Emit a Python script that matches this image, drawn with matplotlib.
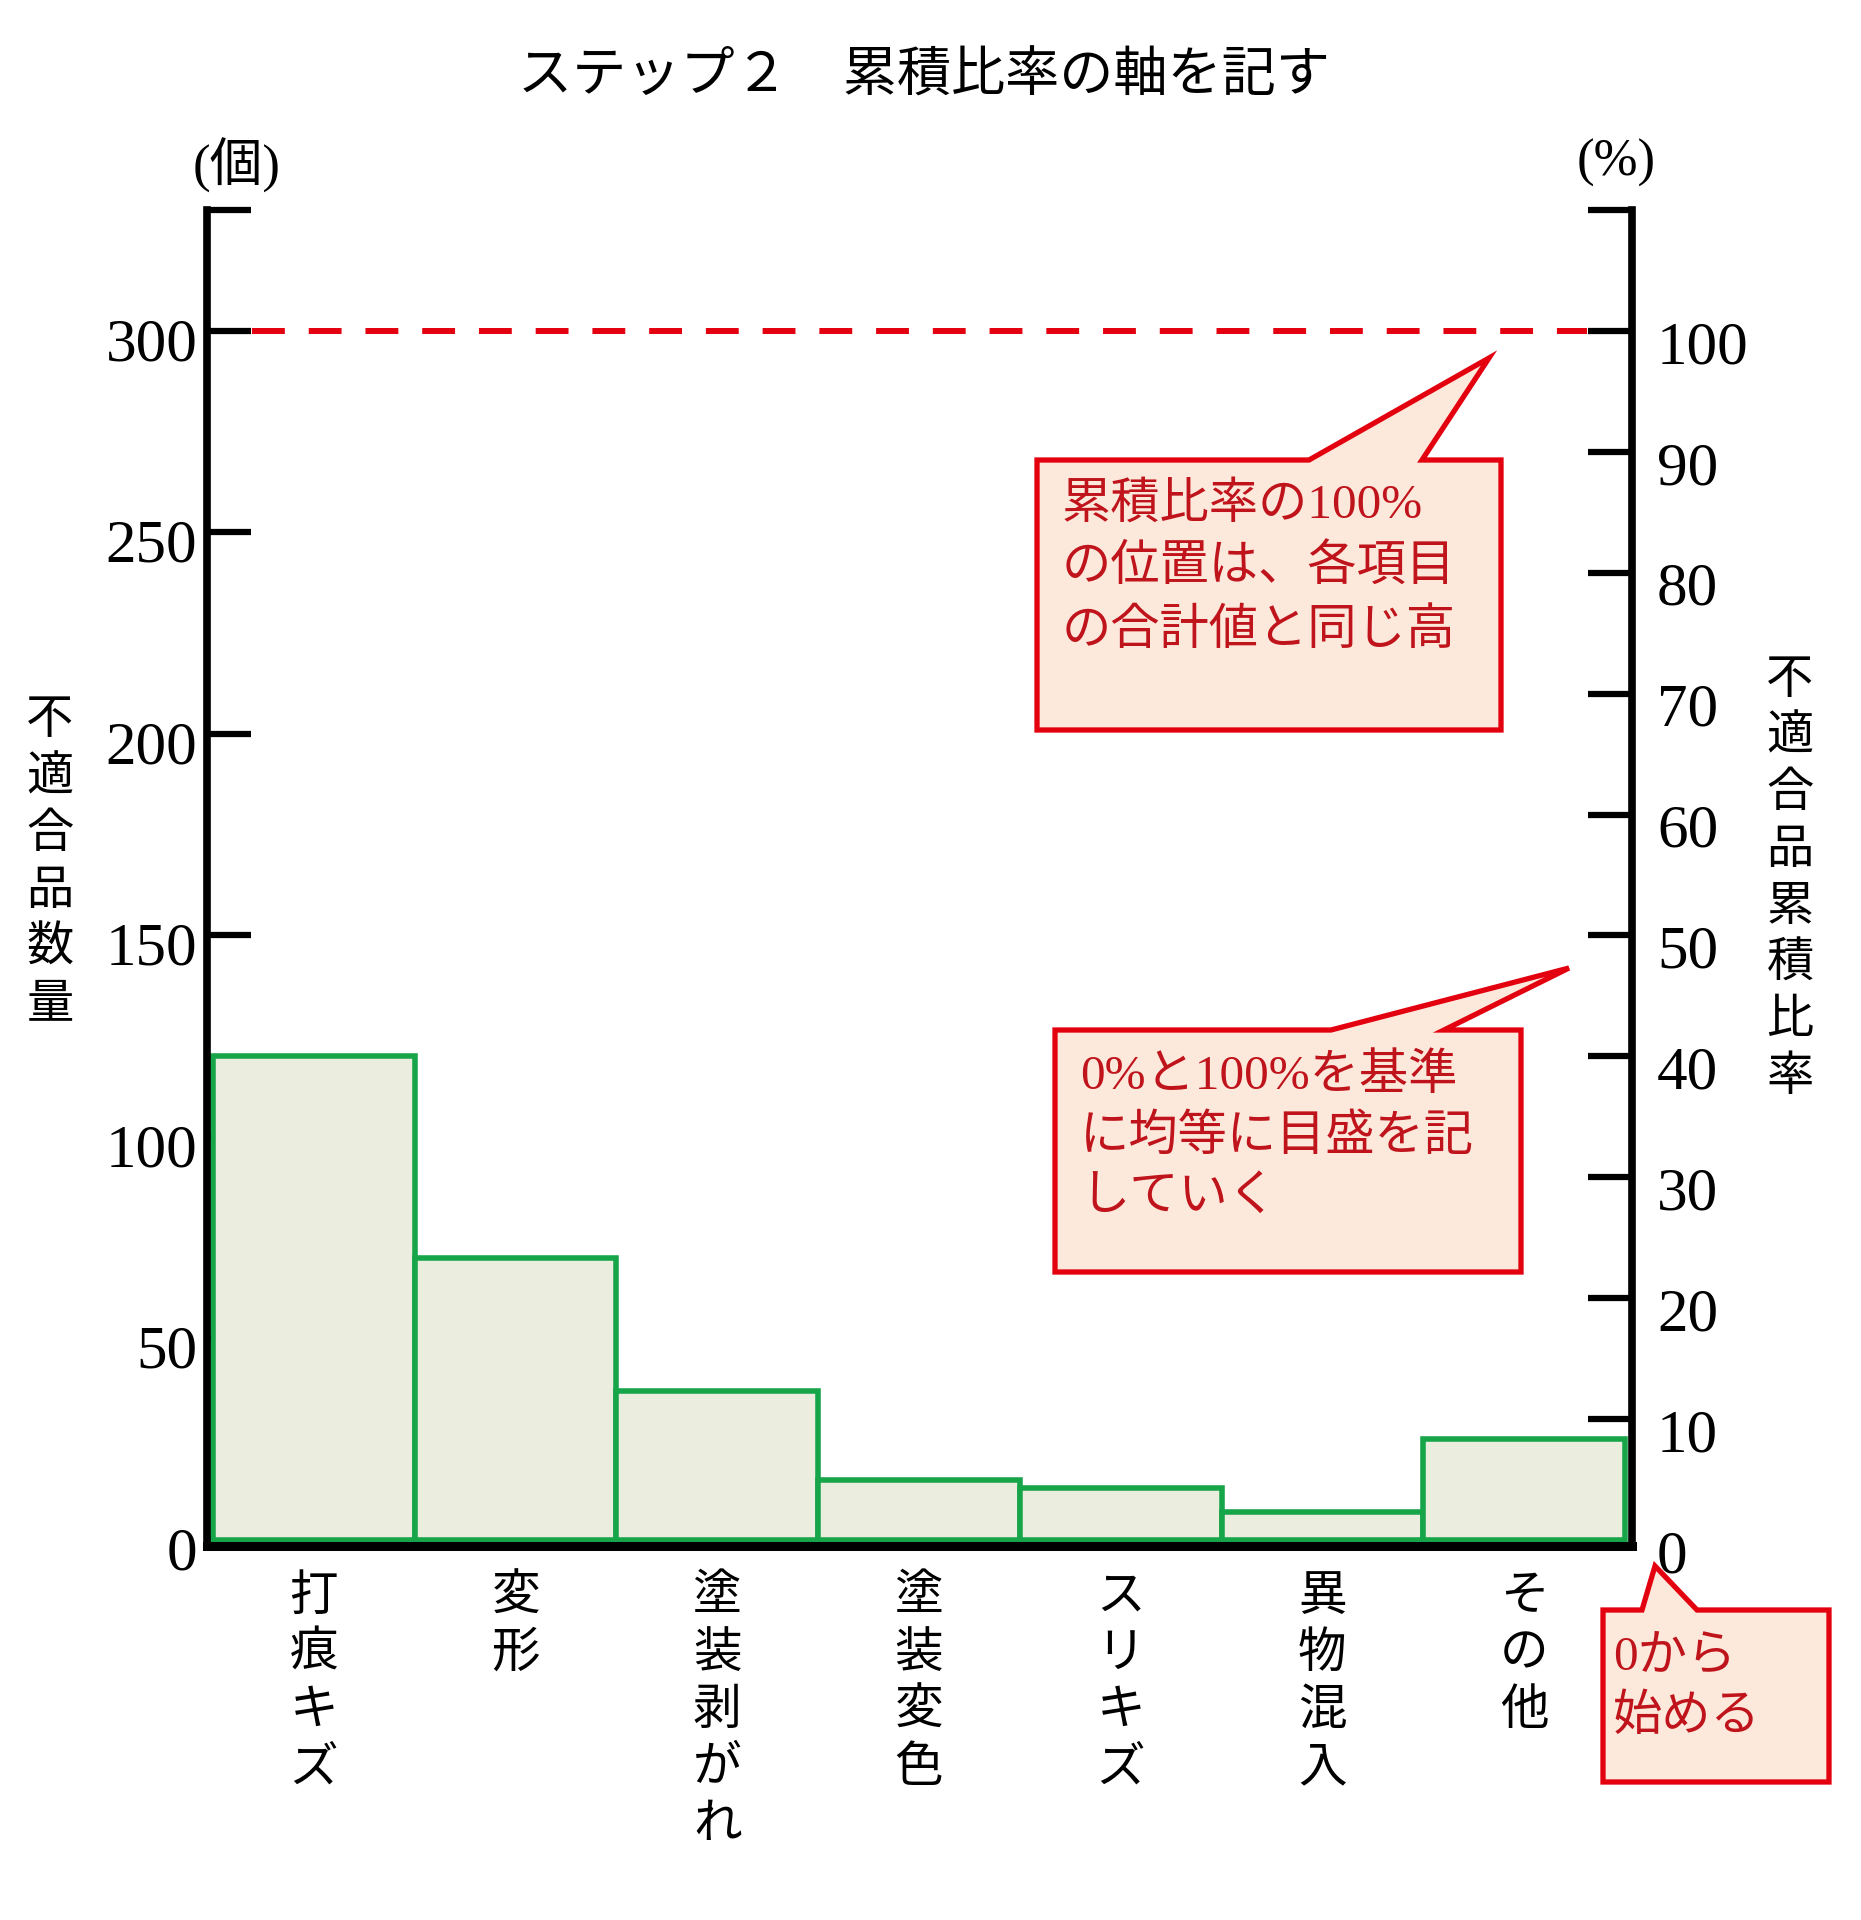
import matplotlib
matplotlib.use('Agg')
import matplotlib.pyplot as plt
from matplotlib.patches import Polygon
import matplotlib.transforms as mtransforms

# ---------------- data ----------------
categories = ['打痕キズ', '変形', '塗装剥がれ', '塗装変色', 'スリキズ', '異物混入', 'その他']
counts = [120, 70, 37, 15, 13, 7, 25]
left_ticks = [0, 50, 100, 150, 200, 250, 300, 330]
left_ticklabels = ['0', '50', '100', '150', '200', '250', '300', '']
right_ticks = [0, 10, 20, 30, 40, 50, 60, 70, 80, 90, 100, 110]
right_ticklabels = ['0', '10', '20', '30', '40', '50', '60', '70', '80', '90', '100', '']
total_level = 300
title = 'ステップ２　累積比率の軸を記す'
left_unit = '(個)'
right_unit = '(%)'
left_ylabel = '不適合品数量'
right_ylabel = '不適合品累積比率'
callout1_lines = ['累積比率の100%', 'の位置は、各項目', 'の合計値と同じ高']
callout2_lines = ['0%と100%を基準', 'に均等に目盛を記', 'していく']
callout3_lines = ['0から', '始める']

# ---------------- style ----------------
W, H = 1861, 1920
FAM = ['Liberation Serif', 'Noto Sans CJK JP']
CJK = ['Noto Sans CJK JP', 'DejaVu Sans']
plt.rcParams['font.family'] = FAM

GREEN = '#17A54A'
FILL = '#EBEEDF'
RED = '#E3000F'
TXTRED = '#C0141C'
BOXFILL = '#FDE9DC'

fig = plt.figure(figsize=(W / 100, H / 100), dpi=100)
fig.patch.set_facecolor('white')

def fx(x):
    return x / W

def fy(y):
    return 1 - y / H

ax_l, ax_r, ax_t, ax_b = 207, 1632, 210, 1546
ax = fig.add_axes([fx(ax_l), fy(ax_b), (ax_r - ax_l) / W, (ax_b - ax_t) / H])
ax.set_facecolor('none')

centers = [i + 0.5 for i in range(len(categories))]
ax.bar(centers, counts, width=1.0, color=FILL, edgecolor=GREEN, linewidth=4.0, zorder=2)

ax.set_xlim(-0.03, 7.035)
ax.set_ylim(-1.5, 330)

# dashed 100% line
ax.axhline(total_level, xmin=0.0316, xmax=0.9684, color=RED, lw=4.3,
           ls=(0, (5.5, 4)), zorder=3)

for s in ['top', 'right']:
    ax.spines[s].set_visible(False)
ax.spines['left'].set_linewidth(5.5)
ax.spines['bottom'].set_linewidth(6.5)
for s in ['left', 'bottom']:
    ax.spines[s].set_zorder(4)

ax.set_yticks(left_ticks)
ax.set_yticklabels(left_ticklabels)
ax.tick_params(axis='y', direction='in', length=32, width=4.5, pad=7,
               labelsize=44, colors='black')
ax.yaxis.get_major_ticks()[0].tick1line.set_visible(False)

ax.set_xticks(centers)
ax.set_xticklabels(['\n'.join(c) for c in categories], family=CJK,
                   fontsize=35, va='top', linespacing=1.2)
ax.tick_params(axis='x', length=0, pad=18)

# right axis
ax2 = ax.twinx()
ax2.set_ylim(-0.5, 110)
for s in ['top', 'left', 'bottom']:
    ax2.spines[s].set_visible(False)
ax2.spines['right'].set_linewidth(5.5)
ax2.set_yticks(right_ticks)
ax2.set_yticklabels(right_ticklabels)
ax2.tick_params(axis='y', direction='in', length=32, width=4.5, pad=18,
                labelsize=44, colors='black')
ax2.yaxis.get_major_ticks()[0].tick2line.set_visible(False)

off_l = mtransforms.ScaledTranslation(0, -8 / 100, fig.dpi_scale_trans)
off_r = mtransforms.ScaledTranslation(0, -11 / 100, fig.dpi_scale_trans)
for lab in ax.get_yticklabels():
    lab.set_transform(lab.get_transform() + off_l)
for lab in ax2.get_yticklabels():
    lab.set_transform(lab.get_transform() + off_r)

# title and units
fig.text(fx(924), fy(76), title, family=CJK, fontsize=39, ha='center', va='center')
fig.text(fx(237), fy(165), left_unit, fontsize=38, ha='center', va='center')
fig.text(fx(1616), fy(163), right_unit, fontsize=38, ha='center', va='center')

# vertical axis titles
fig.text(fx(50), fy(862), '\n'.join(left_ylabel), family=CJK, fontsize=34,
         ha='center', va='center', linespacing=1.22)
fig.text(fx(1790), fy(878), '\n'.join(right_ylabel), family=CJK, fontsize=34,
         ha='center', va='center', linespacing=1.22)

# callouts
def callout(L, T, R, B, p1, p2, tip, lines, tx, ty0, pitch):
    pts = [(L, T), (p1, T), tip, (p2, T), (R, T), (R, B), (L, B)]
    poly = Polygon([(fx(x), fy(y)) for x, y in pts], closed=True,
                   transform=fig.transFigure, facecolor=BOXFILL, edgecolor=RED,
                   linewidth=3.8, joinstyle='miter', zorder=5)
    fig.add_artist(poly)
    for i, line in enumerate(lines):
        fig.text(fx(tx), fy(ty0 + i * pitch), line, fontsize=35.5, color=TXTRED,
                 ha='left', va='center', zorder=6)

callout(1037, 460, 1501, 730, 1309, 1422, (1489, 358), callout1_lines, 1062, 505, 63)
callout(1055, 1030, 1521, 1272, 1331, 1444, (1569, 968), callout2_lines, 1080, 1076, 61)
callout(1603, 1610, 1829, 1782, 1642, 1697, (1655, 1566), callout3_lines, 1613, 1658, 59)

fig.savefig('out.png', dpi=100, facecolor='white')
